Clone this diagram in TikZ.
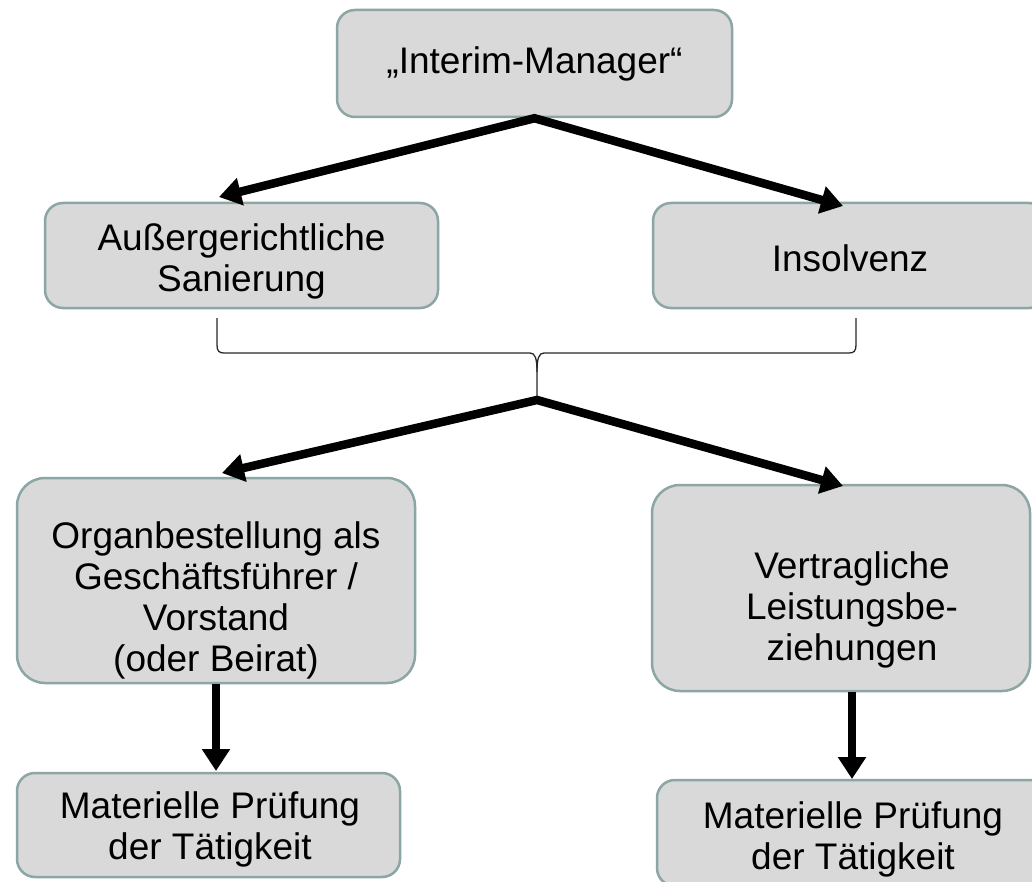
\documentclass[tikz,border=0pt]{standalone}
\usepackage{fontspec}
\setmainfont{Liberation Sans}
\usetikzlibrary{arrows.meta}
\definecolor{boxfill}{RGB}{217,217,217}
\definecolor{boxline}{RGB}{140,165,165}
\definecolor{bracecol}{RGB}{40,40,40}
\begin{document}
\begin{tikzpicture}[x=1pt,y=-1pt,
  box/.style={draw=boxline, line width=2.5pt, fill=boxfill, rounded corners=#1, inner sep=0pt},
  box/.default=18pt,
  txt/.style={inner sep=0pt, align=center, text=black, font=\fontsize{37}{41}\selectfont},
  arr/.style={line width=8.5pt, line join=miter, -{Triangle[length=22pt,width=27pt]}},
  dblarr/.style={line width=8.5pt, line join=miter, {Triangle[length=22pt,width=27pt]}-{Triangle[length=22pt,width=27pt]}},
  bracestyle/.style={line width=1.3pt, draw=bracecol}]
\useasboundingbox (0,0) rectangle (1032,882);
\fill[white] (0,0) rectangle (1032,882);
\clip (0,0) rectangle (1032,882);

% boxes
\node[box, minimum width=395pt, minimum height=107pt] (im) at (534.5,63.5) {};
\node[box, minimum width=393pt, minimum height=105pt] (as) at (241.5,255.5) {};
\node[box, minimum width=394pt, minimum height=105pt] (ins) at (850,255.5) {};
\node[box=28pt, minimum width=398pt, minimum height=205pt] (org) at (216,580.5) {};
\node[box=28pt, minimum width=378pt, minimum height=206pt] (ver) at (841,588) {};
\node[box, minimum width=383pt, minimum height=104pt] (mp1) at (208.5,825) {};
\node[box, minimum width=392pt, minimum height=106pt] (mp2) at (853,833) {};

% texts
\node[txt] (imt) at (534.5,64) {„Interim-Manager“};
\node[txt] (ast) at (241.5,261) {Außergerichtliche\\Sanierung};
\node[txt] (inst) at (850,258) {Insolvenz};
\node[txt] (orgt) at (216,600) {Organbestellung als\\Geschäftsführer /\\Vorstand\\(oder Beirat)};
\node[txt] (vert) at (852,610) {Vertragliche\\Leistungsbe-\\ziehungen};
\node[txt] (mp1t) at (210,829) {Materielle Prüfung\\der Tätigkeit};
\node[txt] (mp2t) at (853,839) {Materielle Prüfung\\der Tätigkeit};

% arrow end points
\coordinate (t1) at (219,197);
\coordinate (t2) at (843,206);
\coordinate (br) at (537,400);
\coordinate (t3) at (222,473);
\coordinate (t4) at (843,486);
\coordinate (t5) at (216,771);
\coordinate (t6) at (852,779);

% top arrows
\draw[dblarr] (t1) -- (im.south) -- (t2);

% brace
\draw[bracestyle] (217,318) -- (217,345) .. controls (217,351) and (219,353) .. (224,353)
  -- (530,353) .. controls (535,353) and (537,358) .. (537,372) -- (br);
\draw[bracestyle] (856,318) -- (856,345) .. controls (856,351) and (854,353) .. (849,353)
  -- (544,353) .. controls (539,353) and (537,358) .. (537,372);

% lower arrows
\draw[dblarr] (t3) -- (br) -- (t4);

% vertical arrows
\draw[arr] (org.south -| t5) -- (t5);
\draw[arr] (ver.south -| t6) -- (t6);
\end{tikzpicture}
\end{document}
